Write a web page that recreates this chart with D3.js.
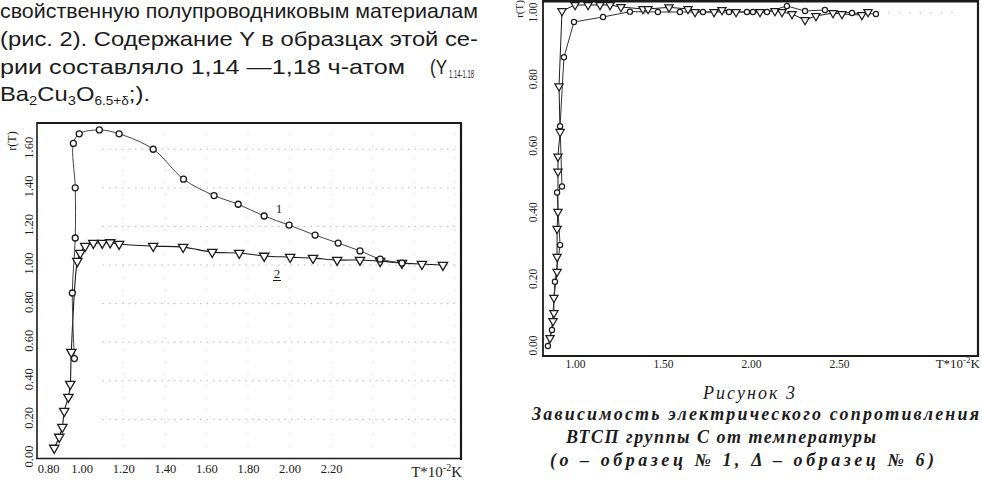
<!DOCTYPE html>
<html><head><meta charset="utf-8">
<script src="https://cdn.jsdelivr.net/npm/d3@7"></script>
<style>
html,body{margin:0;padding:0;background:#fff;}
svg{display:block;}
</style></head>
<body>
<svg id="c" width="982" height="480"></svg>
<script>
// ---------- DATA ----------
// Left chart (sample series 1: circles, 2: triangles)
const leftXTicks = [0.80, 1.00, 1.20, 1.40, 1.60, 1.80, 2.00, 2.20];
const leftYTicks = [0.00, 0.20, 0.40, 0.60, 0.80, 1.00, 1.20, 1.40, 1.60];
const leftGridX = [1.20, 1.40, 1.60, 1.80, 2.00, 2.20, 2.40, 2.60, 2.80];
const leftS1T = [0.965, 0.955, 0.969, 0.969, 0.960, 0.988, 1.085, 1.180, 1.344, 1.490, 1.637, 1.753, 1.878, 1.998, 2.123, 2.234, 2.339, 2.436, 2.541];
const leftS1R = [0.515, 0.855, 1.140, 1.400, 1.630, 1.680, 1.700, 1.680, 1.600, 1.445, 1.360, 1.315, 1.254, 1.207, 1.155, 1.114, 1.073, 1.031, 1.010];
const leftS2T = [0.868, 0.892, 0.907, 0.916, 0.936, 0.945, 0.950, 0.979, 0.993, 1.017, 1.056, 1.099, 1.137, 1.180, 1.344, 1.488, 1.628, 1.758, 1.878, 2.003, 2.113, 2.229, 2.339, 2.436, 2.541, 2.637, 2.738];
const leftS2R = [0.052, 0.109, 0.160, 0.243, 0.316, 0.383, 0.549, 1.020, 1.062, 1.098, 1.114, 1.114, 1.117, 1.109, 1.098, 1.093, 1.067, 1.062, 1.047, 1.041, 1.036, 1.026, 1.026, 1.020, 1.010, 1.005, 1.000];
const leftCurveLabels = ["1", "2"];

// Right chart (sample 1: circles, sample 6: triangles)
const rightXTicks = [1.00, 1.50, 2.00, 2.50];
const rightYTicks = [0.00, 0.20, 0.40, 0.60, 0.80, 1.00];
const rightS1T = [0.846, 0.869, 0.886, 0.915, 0.898, 0.926, 0.915, 0.937, 0.994, 1.159, 1.312, 1.471, 1.596, 1.727, 1.875, 1.977, 2.011, 2.091, 2.204, 2.307, 2.420, 2.574, 2.710];
const rightS1R = [-0.003, 0.045, 0.190, 0.300, 0.458, 0.476, 0.657, 0.864, 0.970, 0.985, 1.001, 1.000, 1.000, 1.000, 1.000, 1.000, 1.000, 1.000, 1.018, 1.003, 1.006, 0.997, 0.994];
const rightS6T = [0.858, 0.875, 0.880, 0.880, 0.898, 0.898, 0.898, 0.903, 0.903, 0.903, 0.915, 0.909, 0.926, 1.000, 1.074, 1.142, 1.199, 1.261, 1.386, 1.415, 1.534, 1.642, 1.682, 1.790, 1.835, 1.915, 2.051, 2.136, 2.176, 2.233, 2.307, 2.369, 2.466, 2.517, 2.630, 2.665];
const rightS6R = [0.021, 0.072, 0.096, 0.142, 0.220, 0.265, 0.349, 0.400, 0.521, 0.566, 0.640, 0.777, 1.003, 1.021, 1.021, 1.021, 1.021, 1.015, 1.009, 1.009, 1.014, 1.009, 1.000, 1.000, 1.006, 1.000, 1.000, 1.003, 1.000, 0.994, 0.976, 0.988, 0.997, 0.994, 0.991, 1.000];

// Texts
const bodyLines = [
  "свойственную полупроводниковым материалам",
  "(рис. 2).  Содержание  Y в образцах этой се-",
  "рии  составляло  1,14 —1,18  ч-атом"
];
const captionLines = [
  "Рисунок 3",
  "Зависимость электрического сопротивления",
  "ВТСП группы С от температуры",
  "(о – образец № 1, Δ – образец № 6)"
];
const axisLabelY = "r(T)";

// ---------- DRAW ----------
const svg = d3.select("#c");
const ink = "#1b1b1b";
const fmt = d3.format(".2f");

// body text (justified, narrow sans)
const bodyFont = "'Liberation Sans','Arial',sans-serif";
const bodyG = svg.append("g").attr("fill", ink).style("font-family", bodyFont).style("font-size", "21px");
bodyG.append("text").attr("x", 0).attr("y", 18).attr("textLength", 478).attr("lengthAdjust", "spacingAndGlyphs").text(bodyLines[0]);
bodyG.append("text").attr("x", 0).attr("y", 46).attr("textLength", 478).attr("lengthAdjust", "spacingAndGlyphs").text(bodyLines[1]);
bodyG.append("text").attr("x", 0).attr("y", 74).attr("textLength", 405).attr("lengthAdjust", "spacingAndGlyphs").text(bodyLines[2]);
bodyG.append("text").attr("x", 430).attr("y", 74).attr("textLength", 17).attr("lengthAdjust", "spacingAndGlyphs").text("(Y");
bodyG.append("text").attr("x", 449).attr("y", 78).style("font-size", "10px").attr("textLength", 25).attr("lengthAdjust", "spacingAndGlyphs").text("1.14-1.18");
const l4 = bodyG.append("text").attr("x", 0).attr("y", 101).attr("textLength", 150).attr("lengthAdjust", "spacingAndGlyphs");
l4.append("tspan").text("Ba");
l4.append("tspan").attr("dy", 4).style("font-size", "13px").text("2");
l4.append("tspan").attr("dy", -4).text("Cu");
l4.append("tspan").attr("dy", 4).style("font-size", "13px").text("3");
l4.append("tspan").attr("dy", -4).text("O");
l4.append("tspan").attr("dy", 4).style("font-size", "12px").text("6.5+δ");
l4.append("tspan").attr("dy", -4).text(";).");

// ---------- LEFT CHART ----------
const serif = "'Liberation Serif','DejaVu Serif',serif";
const xL = d3.scaleLinear().domain([0.785, 2.825]).range([37, 461]);
const yL = d3.scaleLinear().domain([0, 1.736]).range([458, 123]);
const gL = svg.append("g");

// dotted grid
gL.append("g").selectAll("line.h").data(leftYTicks.filter(d => d > 0)).join("line")
  .attr("x1", xL(1.10)).attr("x2", xL(2.80)).attr("y1", d => yL(d)).attr("y2", d => yL(d))
  .attr("stroke", "#b8b8b8").attr("stroke-width", 1).attr("stroke-dasharray", "1.5,5");
gL.append("g").selectAll("line.v").data(leftGridX).join("line")
  .attr("x1", d => xL(d)).attr("x2", d => xL(d)).attr("y1", yL(1.68)).attr("y2", yL(0.02))
  .attr("stroke", "#c8c8c8").attr("stroke-width", 1).attr("stroke-dasharray", "1,11");

// frame
gL.append("line").attr("x1", 37).attr("x2", 462).attr("y1", 123).attr("y2", 123).attr("stroke", ink).attr("stroke-width", 2.2);
gL.append("line").attr("x1", 461).attr("x2", 461).attr("y1", 122).attr("y2", 460).attr("stroke", ink).attr("stroke-width", 2.2);
gL.append("line").attr("x1", 37).attr("x2", 37).attr("y1", 122).attr("y2", 459).attr("stroke", ink).attr("stroke-width", 1.6);
gL.append("line").attr("x1", 36).attr("x2", 462).attr("y1", 458.5).attr("y2", 458.5).attr("stroke", ink).attr("stroke-width", 1.6);

// axes
const axLX = gL.append("g").attr("transform", "translate(0,458)")
  .call(d3.axisBottom(xL).tickValues(leftXTicks).tickSize(0).tickPadding(6).tickFormat(fmt));
axLX.select(".domain").remove();
axLX.selectAll("text").style("font-family", serif).style("font-size", "12.5px").attr("fill", ink)
  .attr("dx", (d, i) => i === 0 ? 8 : 0);
const axLY = gL.append("g").attr("transform", "translate(37,0)")
  .call(d3.axisLeft(yL).tickValues(leftYTicks).tickSize(0).tickFormat(fmt));
axLY.select(".domain").remove();
axLY.selectAll("text").style("font-family", serif).style("font-size", "12.5px").attr("fill", ink)
  .attr("x", 0).attr("y", 0).attr("dy", "0.35em").attr("text-anchor", "middle")
  .attr("transform", "translate(-8,-2) rotate(-90)");
gL.append("text").attr("transform", "translate(16,141) rotate(-90)").attr("text-anchor", "middle")
  .style("font-family", serif).style("font-size", "12px").attr("fill", ink).text(axisLabelY);
const tl = gL.append("text").attr("x", 462).attr("y", 477).attr("text-anchor", "end")
  .style("font-family", serif).style("font-size", "15px").attr("fill", ink);
tl.append("tspan").text("T*10");
tl.append("tspan").attr("dy", -6).style("font-size", "10px").text("-2");
tl.append("tspan").attr("dy", 6).text("K");

// curves
const lineL = d3.line().x(d => xL(d[0])).y(d => yL(d[1])).curve(d3.curveCatmullRom.alpha(0.5));
const s1L = leftS1T.map((t, i) => [t, leftS1R[i]]);
const s2L = leftS2T.map((t, i) => [t, leftS2R[i]]);
gL.append("path").attr("d", lineL(s2L)).attr("fill", "none").attr("stroke", ink).attr("stroke-width", 1.1);
gL.append("path").attr("d", lineL(s1L)).attr("fill", "none").attr("stroke", "#444").attr("stroke-width", 1);
gL.append("g").selectAll("path").data(s2L).join("path")
  .attr("d", d3.symbol(d3.symbolTriangle).size(38)())
  .attr("transform", d => `translate(${xL(d[0])},${yL(d[1])}) rotate(180)`)
  .attr("fill", "#fff").attr("stroke", ink).attr("stroke-width", 1.3);
gL.append("g").selectAll("circle").data(s1L).join("circle")
  .attr("cx", d => xL(d[0])).attr("cy", d => yL(d[1])).attr("r", 3)
  .attr("fill", "#fff").attr("stroke", ink).attr("stroke-width", 1.3);
gL.append("text").attr("x", 279).attr("y", 213).attr("text-anchor", "middle")
  .style("font-family", serif).style("font-size", "13px").attr("fill", ink).text(leftCurveLabels[0]);
gL.append("text").attr("x", 277).attr("y", 278).attr("text-anchor", "middle")
  .style("font-family", serif).style("font-size", "13px").attr("fill", ink).text(leftCurveLabels[1]);
gL.append("line").attr("x1", 273).attr("x2", 281).attr("y1", 280.5).attr("y2", 280.5).attr("stroke", ink).attr("stroke-width", 1);

// ---------- RIGHT CHART ----------
const xR = d3.scaleLinear().domain([0.818, 3.29]).range([543, 978]);
const yR = d3.scaleLinear().domain([-0.033, 1.033]).range([356, 1]);
const gR = svg.append("g");

gR.append("line").attr("x1", 542).attr("x2", 979).attr("y1", 1.2).attr("y2", 1.2).attr("stroke", ink).attr("stroke-width", 2.4);
gR.append("line").attr("x1", 978).attr("x2", 978).attr("y1", 0).attr("y2", 357).attr("stroke", ink).attr("stroke-width", 2.2);
gR.append("line").attr("x1", 543).attr("x2", 543).attr("y1", 0).attr("y2", 357).attr("stroke", ink).attr("stroke-width", 1.8);
gR.append("line").attr("x1", 542).attr("x2", 979).attr("y1", 356).attr("y2", 356).attr("stroke", ink).attr("stroke-width", 2);

const axRX = gR.append("g").attr("transform", "translate(0,356)")
  .call(d3.axisBottom(xR).tickValues(rightXTicks).tickSize(0).tickPadding(3.5).tickFormat(fmt));
axRX.select(".domain").remove();
axRX.selectAll("text").style("font-family", serif).style("font-size", "11.5px").attr("fill", ink);
const axRY = gR.append("g").attr("transform", "translate(543,0)")
  .call(d3.axisLeft(yR).tickValues(rightYTicks).tickSize(0).tickFormat(fmt));
axRY.select(".domain").remove();
axRY.selectAll("text").style("font-family", serif).style("font-size", "11.5px").attr("fill", ink)
  .attr("x", 0).attr("y", 0).attr("dy", "0.35em").attr("text-anchor", "middle")
  .attr("transform", "translate(-10,0) rotate(-90)");
gR.append("text").attr("transform", "translate(523,9) rotate(-90)").attr("text-anchor", "middle")
  .style("font-family", serif).style("font-size", "11px").attr("fill", ink).text(axisLabelY);
const tr = gR.append("text").attr("x", 980).attr("y", 368).attr("text-anchor", "end")
  .style("font-family", serif).style("font-size", "13px").attr("fill", ink);
tr.append("tspan").text("T*10");
tr.append("tspan").attr("dy", -5).style("font-size", "9px").text("-2");
tr.append("tspan").attr("dy", 5).text("K");

const lineR = d3.line().x(d => xR(d[0])).y(d => yR(d[1]));
const s1R = rightS1T.map((t, i) => [t, rightS1R[i]]);
const s6R = rightS6T.map((t, i) => [t, rightS6R[i]]);
gR.append("line").attr("x1", xR(2.72)).attr("x2", xR(3.15)).attr("y1", yR(0.998)).attr("y2", yR(0.998))
  .attr("stroke", "#bbb").attr("stroke-dasharray", "1.5,9");
gR.append("path").attr("d", lineR(s6R)).attr("fill", "none").attr("stroke", ink).attr("stroke-width", 1);
gR.append("path").attr("d", lineR(s1R)).attr("fill", "none").attr("stroke", "#333").attr("stroke-width", 1);
gR.append("g").selectAll("path").data(s6R).join("path")
  .attr("d", d3.symbol(d3.symbolTriangle).size(30)())
  .attr("transform", d => `translate(${xR(d[0])},${yR(d[1])}) rotate(180)`)
  .attr("fill", "#fff").attr("stroke", ink).attr("stroke-width", 1.2);
gR.append("g").selectAll("circle").data(s1R).join("circle")
  .attr("cx", d => xR(d[0])).attr("cy", d => yR(d[1])).attr("r", 2.6)
  .attr("fill", "#fff").attr("stroke", ink).attr("stroke-width", 1.2);

// caption
const capG = svg.append("g").attr("fill", ink).style("font-family", serif).style("font-style", "italic");
capG.append("text").attr("x", 703).attr("y", 399).attr("textLength", 92).attr("lengthAdjust", "spacing")
  .style("font-size", "18px").text(captionLines[0]);
capG.append("text").attr("x", 532).attr("y", 420).attr("textLength", 447).attr("lengthAdjust", "spacing")
  .style("font-size", "18px").style("font-weight", "bold").text(captionLines[1]);
capG.append("text").attr("x", 566).attr("y", 443).attr("textLength", 310).attr("lengthAdjust", "spacing")
  .style("font-size", "18px").style("font-weight", "bold").text(captionLines[2]);
capG.append("text").attr("x", 550).attr("y", 466).attr("textLength", 384).attr("lengthAdjust", "spacing")
  .style("font-size", "18px").style("font-weight", "bold").text(captionLines[3]);
</script>
</body></html>
